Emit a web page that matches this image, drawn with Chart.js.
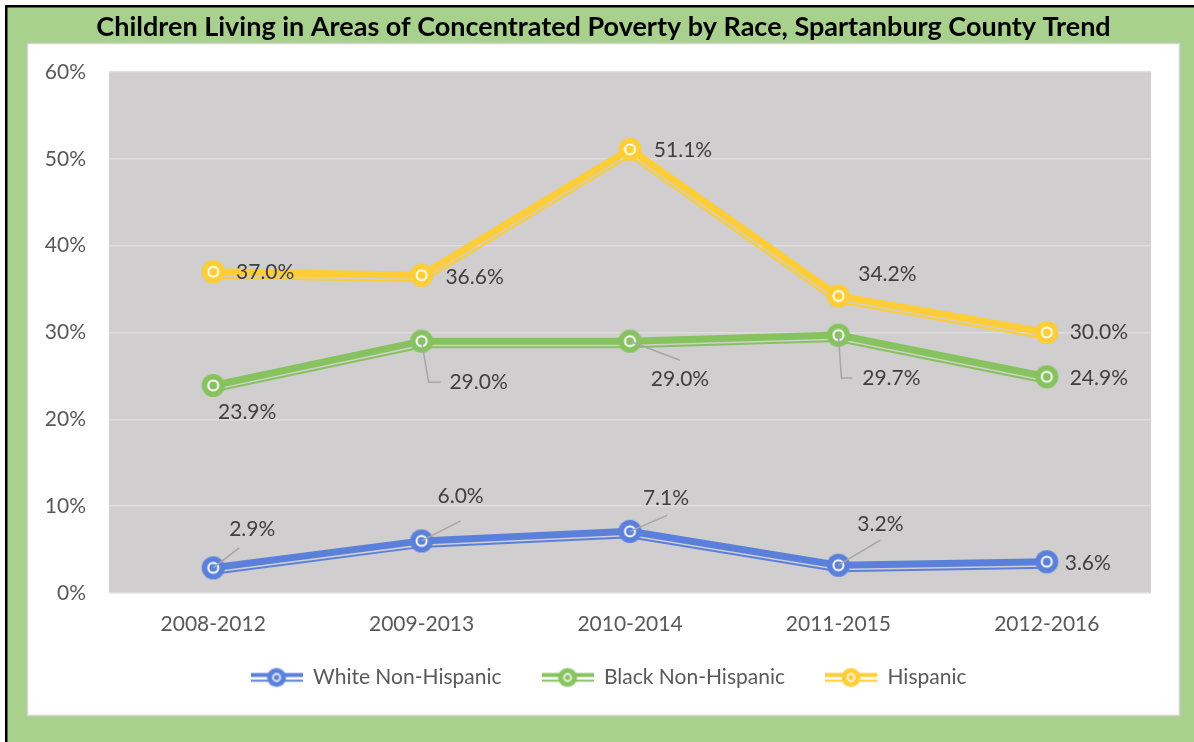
<!DOCTYPE html>
<html>
<head>
<meta charset="utf-8">
<title>Children Living in Areas of Concentrated Poverty by Race</title>
<script src="https://cdn.jsdelivr.net/npm/chart.js@4/dist/chart.umd.min.js"></script>
<style>
  html, body { margin: 0; padding: 0; background: #ffffff; }
  #wrap { width: 1194px; height: 742px; position: relative; overflow: hidden; }
  canvas { display: block; }
</style>
</head>
<body>
<div id="wrap"><canvas id="chart" width="1194" height="742"></canvas></div>
<script>
// Periods (5-year ACS estimates)
const categories = ['2008-2012', '2009-2013', '2010-2014', '2011-2015', '2012-2016'];

// Share of children living in areas of concentrated poverty (%)
const whiteNonHispanic = [2.9, 6.0, 7.1, 3.2, 3.6];
const blackNonHispanic = [23.9, 29.0, 29.0, 29.7, 24.9];
const hispanic = [37.0, 36.6, 51.1, 34.2, 30.0];

const seriesNames = ['White Non-Hispanic', 'Black Non-Hispanic', 'Hispanic'];

// Y axis ticks (%)
const yTicks = [0, 10, 20, 30, 40, 50, 60];

const COLORS = ['#5b80dc', '#86c35e', '#ffcd35'];
const FONT = 'Lato';

// Where each value label sits relative to its point, plus optional leader line
const labelLayout = [
  [
    { dx: 39, dy: -39, leader: [[0, 0], [26, -20]] },
    { dx: 39, dy: -45, leader: [[0, 0], [39, -20]] },
    { dx: 36, dy: -33, leader: [[0, 0], [37, -16]] },
    { dx: 42, dy: -41, leader: [[0, 0], [42, -25]] },
    { dx: 41, dy: 1 }
  ],
  [
    { dx: 34, dy: 27 },
    { dx: 57, dy: 41, leader: [[0, 0], [7, 41], [19, 41]] },
    { dx: 50, dy: 38, leader: [[0, 0], [50, 19]] },
    { dx: 53, dy: 43, leader: [[0, 0], [3, 43], [14, 43]] },
    { dx: 52, dy: 1 }
  ],
  [
    { dx: 52, dy: 1 },
    { dx: 53, dy: 2 },
    { dx: 53, dy: 1 },
    { dx: 49, dy: -22 },
    { dx: 52, dy: 0 }
  ]
];

// Round marker: filled disc with a white ring and a centre dot
function makeMarker(color, r, ringR, ringW, dotR) {
  const s = Math.ceil(r * 2 + 2);
  const c = document.createElement('canvas');
  c.width = s; c.height = s;
  const g = c.getContext('2d');
  const m = s / 2;
  g.fillStyle = color;
  g.beginPath(); g.arc(m, m, r, 0, Math.PI * 2); g.fill();
  g.strokeStyle = '#ffffff'; g.lineWidth = ringW;
  g.beginPath(); g.arc(m, m, ringR, 0, Math.PI * 2); g.stroke();
  g.fillStyle = color;
  g.beginPath(); g.arc(m, m, dotR, 0, Math.PI * 2); g.fill();
  return c;
}

// Legend swatch: thick/thin double line with the marker in the middle
function makeLegendIcon(color) {
  const w = 52, h = 22;
  const c = document.createElement('canvas');
  c.width = w; c.height = h;
  const g = c.getContext('2d');
  g.fillStyle = color;
  g.fillRect(0, 6.5, w, 4);
  g.fillRect(0, 13.2, w, 2);
  const mk = makeMarker(color, 9.5, 3.6, 1.6, 1.2);
  g.drawImage(mk, w / 2 - mk.width / 2, h / 2 - mk.height / 2);
  return c;
}

const markers = COLORS.map(c => makeMarker(c, 11.5, 5, 2, 1.4));
const legendIcons = COLORS.map(makeLegendIcon);

// Outer frame, white panel and grey plot background
const framePlugin = {
  id: 'frame',
  beforeDraw(chart) {
    const { ctx, chartArea: a, width, height } = chart;
    ctx.save();
    ctx.fillStyle = '#ffffff';
    ctx.fillRect(0, 0, width, height);
    ctx.fillStyle = '#000000';
    ctx.fillRect(5, 5, width - 5, height - 5);
    ctx.fillStyle = '#a9d18e';
    ctx.fillRect(7.5, 7.5, width - 7.5, height - 7.5);
    ctx.fillStyle = '#ffffff';
    ctx.fillRect(27, 43, 1153, 673);
    ctx.strokeStyle = '#d3d3d3';
    ctx.lineWidth = 1.5;
    ctx.strokeRect(27.5, 43.5, 1152, 672);
    ctx.fillStyle = '#d0cece';
    ctx.fillRect(a.left, a.top, a.right - a.left, a.bottom - a.top);
    ctx.restore();
  }
};

// Nudge title and legend so they centre on the white panel rather than the padded box
const centringPlugin = {
  id: 'centring',
  afterLayout(chart) {
    const lg = chart.legend;
    if (lg) {
      lg.left += 13; lg.right += 13;
      lg.top -= 25; lg.bottom -= 25;
    }
    const tb = chart.titleBlock;
    if (tb) { tb.left += 8; tb.right += 8; }
  }
};

// Thin companion stroke offset below each line (compound "thick-thin" line)
const thinLinePlugin = {
  id: 'thinLine',
  beforeDatasetDraw(chart, args) {
    const meta = args.meta;
    const pts = meta.data.map(p => ({ x: p.x, y: p.y }));
    if (pts.length < 2) return;
    const off = 6;
    const normals = [];
    for (let i = 0; i < pts.length - 1; i++) {
      const dx = pts[i + 1].x - pts[i].x, dy = pts[i + 1].y - pts[i].y;
      const len = Math.hypot(dx, dy) || 1;
      normals.push({ x: -dy / len, y: dx / len });
    }
    const path = pts.map((p, i) => {
      let n;
      if (i === 0) n = normals[0];
      else if (i === pts.length - 1) n = normals[normals.length - 1];
      else {
        const a = normals[i - 1], b = normals[i];
        let mx = a.x + b.x, my = a.y + b.y;
        const ml = Math.hypot(mx, my) || 1;
        mx /= ml; my /= ml;
        const k = 1 / Math.max(0.3, mx * b.x + my * b.y);
        n = { x: mx * k, y: my * k };
      }
      return { x: p.x + n.x * off, y: p.y + n.y * off };
    });
    const ctx = chart.ctx;
    const ds = chart.data.datasets[args.index];
    ctx.save();
    ctx.strokeStyle = ds.borderColor;
    ctx.lineWidth = 2;
    ctx.lineJoin = 'miter';
    ctx.beginPath();
    path.forEach((p, i) => (i ? ctx.lineTo(p.x, p.y) : ctx.moveTo(p.x, p.y)));
    ctx.stroke();
    ctx.restore();
  }
};

// Value labels with grey leader lines
const valueLabelPlugin = {
  id: 'valueLabels',
  afterDatasetsDraw(chart) {
    const ctx = chart.ctx;
    ctx.save();
    chart.data.datasets.forEach((ds, i) => {
      const meta = chart.getDatasetMeta(i);
      meta.data.forEach((pt, j) => {
        const lay = labelLayout[i][j];
        if (lay.leader) {
          ctx.strokeStyle = '#a6a6a6';
          ctx.lineWidth = 1.5;
          ctx.beginPath();
          lay.leader.forEach((q, k) => (k ? ctx.lineTo(pt.x + q[0], pt.y + q[1]) : ctx.moveTo(pt.x + q[0], pt.y + q[1])));
          ctx.stroke();
        }
        ctx.fillStyle = '#404040';
        ctx.font = `21px ${FONT}`;
        ctx.textAlign = 'center';
        ctx.textBaseline = 'middle';
        ctx.fillText(ds.data[j].toFixed(1) + '%', pt.x + lay.dx, pt.y + lay.dy);
      });
    });
    ctx.restore();
  }
};

const seriesValues = [whiteNonHispanic, blackNonHispanic, hispanic];

function build() {
  const datasets = seriesValues.map((vals, i) => ({
    label: seriesNames[i],
    data: vals,
    borderColor: COLORS[i],
    backgroundColor: COLORS[i],
    borderWidth: 7,
    tension: 0,
    pointStyle: markers[i],
    pointRadius: 11,
    clip: false
  }));

  new Chart(document.getElementById('chart'), {
    type: 'line',
    data: { labels: categories, datasets },
    options: {
      responsive: false,
      devicePixelRatio: 1,
      animation: false,
      events: [],
      layout: { padding: { left: 40, right: 43, top: 0, bottom: 19 } },
      scales: {
        x: {
          offset: true,
          grid: { display: false, drawTicks: false },
          border: { display: false },
          ticks: { color: '#595959', font: { family: FONT, size: 21 }, padding: 19, maxRotation: 0 },
          afterFit(scale) { scale.height = 59; }
        },
        y: {
          min: 0,
          max: 60,
          afterBuildTicks(scale) { scale.ticks = yTicks.map(v => ({ value: v })); },
          grid: { color: '#dedcdc', lineWidth: 1.5, drawTicks: false },
          border: { display: false },
          ticks: {
            color: '#595959',
            font: { family: FONT, size: 21 },
            padding: 23,
            callback: v => v + '%'
          },
          afterFit(scale) { scale.width = 69; }
        }
      },
      plugins: {
        title: {
          display: true,
          text: 'Children Living in Areas of Concentrated Poverty by Race, Spartanburg County Trend',
          color: '#000000',
          font: { family: FONT, size: 27, weight: 'bold' },
          padding: { top: 11, bottom: 28.6 }
        },
        legend: {
          position: 'bottom',
          labels: {
            color: '#595959',
            font: { family: FONT, size: 21 },
            usePointStyle: true,
            pointStyleWidth: 52,
            padding: 40,
            generateLabels(chart) {
              return Chart.defaults.plugins.legend.labels.generateLabels(chart)
                .map((it, i) => Object.assign(it, { pointStyle: legendIcons[i] }));
            }
          }
        },
        tooltip: { enabled: false }
      }
    },
    plugins: [framePlugin, centringPlugin, thinLinePlugin, valueLabelPlugin]
  });
}

if (document.fonts && document.fonts.load) {
  Promise.all([
    document.fonts.load(`21px ${FONT}`),
    document.fonts.load(`bold 27px ${FONT}`)
  ]).then(build, build);
} else {
  build();
}
</script>
</body>
</html>
